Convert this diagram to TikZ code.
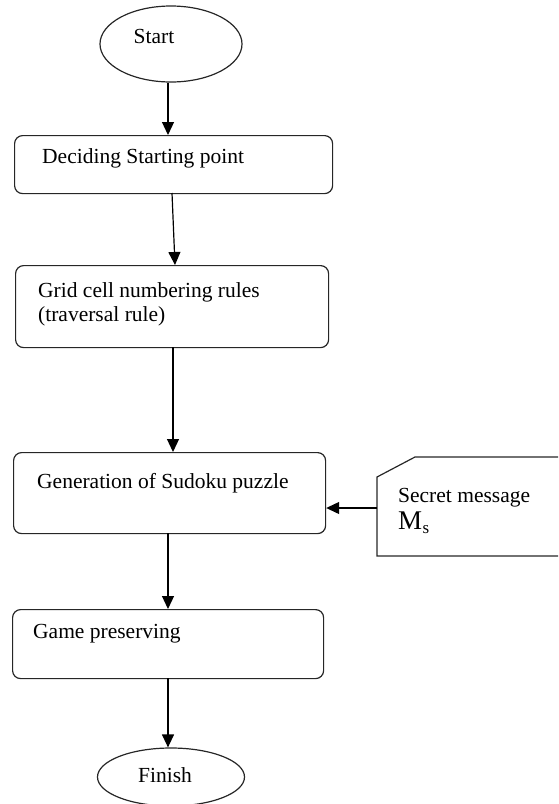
\documentclass[tikz,border=0pt]{standalone}
\usepackage{fontspec}
\setmainfont{Liberation Serif}
\usetikzlibrary{arrows.meta,shapes.geometric}
\tikzset{
  box/.style={draw=black!85, line width=1.2pt, rounded corners=8pt, anchor=north west, inner sep=0pt},
  oval/.style={draw=black!85, line width=1.2pt, ellipse, inner sep=0pt},
  txt/.style={anchor=base west, inner sep=0pt, font=\fontsize{21.5}{26}\selectfont},
  arr/.style={line width=1.2pt, -{Triangle[length=13pt,width=12pt]}},
}
\begin{document}
\begin{tikzpicture}[x=1pt,y=-1pt]
\useasboundingbox (0,0) rectangle (558,804);
\clip (0,0) rectangle (558,804);
% start / finish
\node[oval, minimum width=142pt, minimum height=76pt] (start) at (171,44) {};
\node[txt, anchor=base] (starttxt) at (154,43) {Start};
\node[oval, minimum width=147pt, minimum height=58pt] (finish) at (171,777) {};
\node[txt, anchor=base] (finishtxt) at (165,782) {Finish};
% boxes
\node[box, minimum width=318pt, minimum height=58pt] (b1) at (14,135) {};
\node[txt] (t1) at (42,163) {Deciding Starting point};
\node[box, minimum width=313pt, minimum height=82pt] (b2) at (15,265) {};
\node[txt] (t2a) at (38,297) {Grid cell numbering rules};
\node[txt] (t2b) at (38,321) {(traversal rule)};
\node[box, minimum width=312pt, minimum height=81pt] (b3) at (13,452) {};
\node[txt] (t3) at (37,488) {Generation of Sudoku puzzle};
\node[box, minimum width=311pt, minimum height=69pt] (b4) at (12,609) {};
\node[txt] (t4) at (33,638) {Game preserving};
% secret message card
\draw[line width=1.2pt, draw=black!85] (570,556) -- (377,556) -- (377,477) -- (415,457) -- (570,457);
\node[txt] (s1) at (398,502) {Secret message};
\node[txt, font=\fontsize{27}{30}\selectfont] (s2) at (398,529) {M};
\node[txt, font=\fontsize{17}{20}\selectfont] (s3) at (s2.base east) [yshift=-4pt] {s};
\coordinate (msg) at (377,508);
% connectors
\coordinate (a1) at (168,135);
\coordinate (a2) at (172,193);
\coordinate (a3) at (175,265);
\coordinate (a4) at (173,347);
\coordinate (a5) at (173,452);
\coordinate (a6) at (168,533);
\coordinate (a7) at (168,609);
\coordinate (a8) at (168,678);
\draw[arr] (start.south -| a1) -- (a1);
\draw[arr] (a2) -- (a3);
\draw[arr] (a4) -- (a5);
\draw[arr] (a6) -- (a7);
\draw[arr] (a8) -- (finish.north -| a8);
\draw[arr] (msg) -- (b3.east |- msg);
\end{tikzpicture}
\end{document}
